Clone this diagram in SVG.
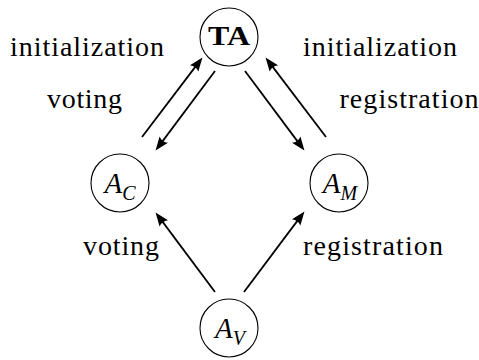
<svg xmlns="http://www.w3.org/2000/svg" width="479" height="360" viewBox="0 0 479 360">
<style>
.node circle{fill:#fff;stroke:#000;stroke-width:1.1}
.lbl{font-family:"Liberation Serif","Times New Roman",serif;font-size:28px;fill:#000;text-anchor:middle}
.nl{font-family:"Liberation Serif","Times New Roman",serif;font-size:29px;fill:#000;text-anchor:middle;font-style:italic}
.sub{font-size:20px}
.edge{stroke:#000;stroke-width:1.8;fill:none;marker-end:url(#ah)}
</style>
<defs>
<marker id="ah" markerUnits="userSpaceOnUse" markerWidth="20" markerHeight="20" viewBox="-12 -6 16 12" refX="0" refY="0" orient="auto" overflow="visible">
<path d="M3,0 L-8,-4.2 Q-5.5,0 -8,4.2 Z" fill="#000"/>
</marker>
</defs>
<g id="connectors">
<line class="edge" x1="142" y1="137" x2="200.2" y2="60.4"/>
<line class="edge" x1="215" y1="71" x2="157.8" y2="147.6"/>
<line class="edge" x1="245" y1="71" x2="302.2" y2="147.6"/>
<line class="edge" x1="326" y1="137" x2="267.8" y2="60.4"/>
<line class="edge" x1="215" y1="292" x2="157.8" y2="215.4"/>
<line class="edge" x1="244" y1="292" x2="302.2" y2="214.4"/>
</g>
<g id="TA" class="node">
<circle cx="229" cy="37" r="29"/>
<text x="229" y="45" class="lbl" font-weight="bold" font-size="27" textLength="42" lengthAdjust="spacingAndGlyphs">TA</text>
</g>
<g id="AC" class="node">
<circle cx="120" cy="183" r="29"/>
<text x="120" y="193" class="nl">A<tspan class="sub" dy="7">C</tspan></text>
</g>
<g id="AM" class="node">
<circle cx="339" cy="183" r="29"/>
<text x="340" y="193" class="nl">A<tspan class="sub" dy="7">M</tspan></text>
</g>
<g id="AV" class="node">
<circle cx="229" cy="328" r="29"/>
<text x="230" y="338" class="nl">A<tspan class="sub" dy="7">V</tspan></text>
</g>
<g id="labels">
<text x="87" y="56" class="lbl" textLength="154">initialization</text>
<text x="84.5" y="108" class="lbl" textLength="75">voting</text>
<text x="380" y="56" class="lbl" textLength="154">initialization</text>
<text x="409" y="108" class="lbl" textLength="139">registration</text>
<text x="121" y="255" class="lbl" textLength="76">voting</text>
<text x="373" y="255" class="lbl" textLength="140">registration</text>
</g>
</svg>
